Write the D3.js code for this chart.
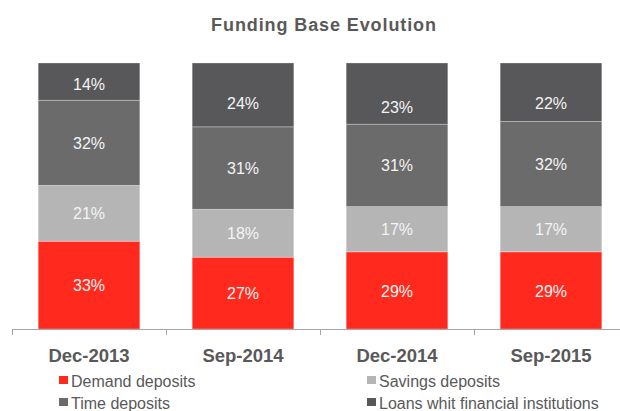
<!DOCTYPE html>
<html>
<head>
<meta charset="utf-8">
<script src="https://d3js.org/d3.v7.min.js"></script>
<style>
  body { margin: 0; background: #fff; }
  svg { display: block; font-family: "Liberation Sans", Arial, sans-serif; }
</style>
</head>
<body>
<div id="chart"></div>
<script>
// data
var categories = ["Dec-2013", "Sep-2014", "Dec-2014", "Sep-2015"];
var seriesNames = ["Demand deposits", "Savings deposits", "Time deposits", "Loans whit financial institutions"];
var demand = [33, 27, 29, 29];
var savings = [21, 18, 17, 17];
var timeDep = [32, 31, 31, 32];
var loans = [14, 24, 23, 22];
var colors = ["#ff2a1d", "#b5b5b5", "#6b6b6b", "#58585a"];

var width = 620, height = 411;

var svg = d3.select("#chart")
  .append("svg")
    .attr("width", width)
    .attr("height", height);

// build rows for the stack
var rows = categories.map(function(c, i) {
  return { cat: c, s0: demand[i], s1: savings[i], s2: timeDep[i], s3: loans[i] };
});
var stack = d3.stack().keys(["s0", "s1", "s2", "s3"]);
var layers = stack(rows);

var x = d3.scaleBand()
  .domain(categories)
  .range([12, 628])
  .paddingInner(0.34)
  .paddingOuter(0.17);

var y = d3.scaleLinear()
  .domain([0, 100])
  .range([329, 63]);

// title
svg.append("text")
  .attr("x", 324)
  .attr("y", 31)
  .attr("text-anchor", "middle")
  .style("font-size", "18px")
  .style("font-weight", "bold")
  .style("letter-spacing", "0.9px")
  .style("fill", "#595959")
  .text("Funding Base Evolution");

// bars
var groups = svg.selectAll("g.layer")
  .data(layers)
  .enter()
  .append("g")
    .attr("class", "layer")
    .attr("fill", function(d, i) { return colors[i]; });

groups.selectAll("rect")
  .data(function(d) { return d; })
  .enter()
  .append("rect")
    .attr("x", function(d) { return x(d.data.cat); })
    .attr("y", function(d) { return y(d[1]); })
    .attr("width", x.bandwidth())
    .attr("height", function(d) { return y(d[0]) - y(d[1]); })
    .attr("stroke", "rgba(255,255,255,0.35)")
    .attr("stroke-width", 0.8);

// the top labels sit a bit low in the original
var topNudge = [2, 8, 13, 11];

groups.selectAll("text")
  .data(function(d) { return d; })
  .enter()
  .append("text")
    .attr("x", function(d) { return x(d.data.cat) + x.bandwidth() / 2; })
    .attr("y", function(d, i) {
      var mid = (y(d[0]) + y(d[1])) / 2;
      return d[1] === 100 ? mid + topNudge[i] : mid;
    })
    .attr("dy", "0.38em")
    .attr("text-anchor", "middle")
    .style("font-size", "16px")
    .style("fill", "#f4f4f4")
    .text(function(d) { return (d[1] - d[0]) + "%"; });

// x axis
var xAxis = svg.append("g")
  .attr("transform", "translate(0,329)")
  .call(d3.axisBottom(x).tickSize(0).tickPadding(0));
xAxis.select(".domain").remove();
xAxis.append("line")
  .attr("x1", 12).attr("x2", 620)
  .attr("y1", 0.5).attr("y2", 0.5)
  .attr("stroke", "#a6a6a6");
xAxis.selectAll(".sep")
  .data(categories)
  .enter()
  .append("line")
    .attr("x1", function(d) { return Math.round(x(d) - x.step() * 0.17) + 0.5; })
    .attr("x2", function(d) { return Math.round(x(d) - x.step() * 0.17) + 0.5; })
    .attr("y1", 0).attr("y2", 6)
    .attr("stroke", "#a6a6a6");
xAxis.selectAll(".tick text")
  .attr("y", 33)
  .attr("dy", 0)
  .style("font-size", "18.5px")
  .style("font-weight", "bold")
  .style("font-family", "\"Liberation Sans\", Arial, sans-serif")
  .style("fill", "#595959");

// legend
var legendPos = [[59, 387], [367, 387], [59, 409], [367, 409]];
var legend = svg.selectAll("g.legend")
  .data(seriesNames)
  .enter()
  .append("g")
    .attr("class", "legend")
    .attr("transform", function(d, i) { return "translate(" + legendPos[i][0] + "," + legendPos[i][1] + ")"; });
legend.append("rect")
  .attr("x", 0).attr("y", -11)
  .attr("width", 9).attr("height", 8)
  .attr("fill", function(d, i) { return colors[i]; });
legend.append("text")
  .attr("x", 12)
  .attr("y", 0)
  .style("font-size", "16px")
  .style("fill", "#595959")
  .text(function(d) { return d; });
</script>
</body>
</html>
